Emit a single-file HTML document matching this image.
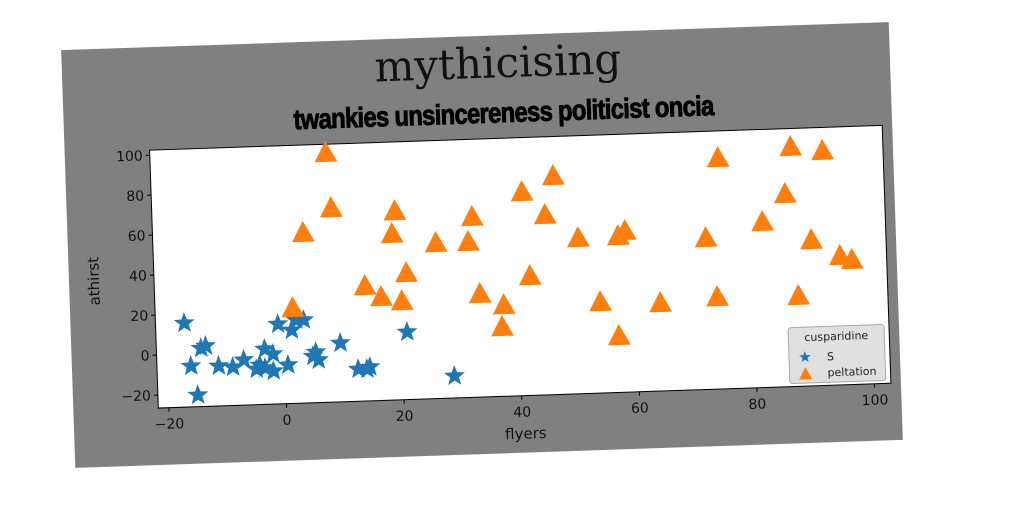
<!DOCTYPE html>
<html><head><meta charset="utf-8">
<style>
html,body{margin:0;padding:0;background:#fff;width:1024px;height:512px;overflow:hidden}
#panel{position:absolute;left:68px;top:36px;width:828px;height:418px;background:#808080;transform:rotate(-1.94deg);transform-origin:center center}
svg text{font-family:"DejaVu Sans","Liberation Sans",sans-serif}
</style></head>
<body>
<div id="panel">
<svg id="chart" width="828" height="418">
  <text x="436" y="42" text-anchor="middle" font-size="42" style="font-family:'DejaVu Serif','Liberation Serif',serif" fill="#111">mythicising</text>
  <text x="440" y="87" text-anchor="middle" font-size="28" font-weight="bold" fill="#000" stroke="#000" stroke-width="0.9" transform="translate(440,0) scale(0.85,1) translate(-440,0)" style="font-family:'Liberation Sans',sans-serif;letter-spacing:-0.8px">twankies unsincereness politicist oncia</text>
  <g id="plot"></g>
</svg>
</div>
<script>
const xTicks=[-20,0,20,40,60,80,100];
const yTicks=[-20,0,20,40,60,80,100];
const seriesNames=["S","peltation"];
const sX=[-16.9,-16.0,-15.0,-14.2,-13.4,-11.3,-8.9,-7.0,-4.9,-3.4,-2.0,-2.0,-4.3,0.5,-1.0,1.3,2.1,3.4,4.8,5.3,5.7,9.5,12.4,13.9,14.4,20.9,28.7,-3.4];
const sY=[15.5,-6.1,-20.7,2.7,3.7,-6.5,-7.3,-3.9,-8.7,1.2,-1.5,-10,-6.7,-7.2,13.4,10.2,15.1,15.0,-3.2,-1.2,-5.2,2.9,-10.4,-10.6,-9.6,7.3,-15.5,-8.3];
const pX=[8.1,8.7,3.8,1.6,19.5,18.9,21.1,20.2,16.7,14.0,26.3,31.8,32.6,33.5,37.5,37.1,41.2,42.1,45.0,46.6,50.5,53.9,56.9,57.3,58.5,64.1,72.2,74.7,73.8,81.9,85.9,87.1,87.6,90.1,92.5,94.9,96.9];
const pY=[98.2,70.5,58.6,21.2,67.9,56.6,36.8,22.8,25.2,31.0,51.3,51.3,63.7,25.1,19.1,8.2,75.3,33.2,63.5,82.8,51.4,19.0,1.7,51.7,54.1,17.5,49.2,89.0,19.5,56.3,69.9,93.3,18.7,46.4,90.8,38.0,35.8];

const NS="http://www.w3.org/2000/svg";
const PL=85,PT=103,PW=733,PH=258;
const xMin=-21.8,xMax=102.8,yMin=-26.5,yMax=102.5;
const xs=v=>PL+(v-xMin)/(xMax-xMin)*PW;
const ys=v=>PT+(yMax-v)/(yMax-yMin)*PH;
const g=document.getElementById('plot');
function mk(t,a){const e=document.createElementNS(NS,t);for(const k in a)e.setAttribute(k,a[k]);g.appendChild(e);return e;}

const bg=mk('rect',{x:PL,y:PT,width:PW,height:PH,fill:'#fff',stroke:'#000','stroke-width':1});



xTicks.forEach(t=>{
  const x=xs(t);
  const l=mk('line',{x1:x,y1:PT+PH,x2:x,y2:PT+PH+4,stroke:'#000'});
  
  
  const tx=mk('text',{x:x,y:PT+PH+21,'text-anchor':'middle','font-size':14,fill:'#111'});
  tx.textContent=t<0?'\u2212'+Math.abs(t):t;
  
  
});
yTicks.forEach(t=>{
  const y=ys(t);
  const l=mk('line',{x1:PL-4,y1:y,x2:PL,y2:y,stroke:'#000'});
  
  
  const tx=mk('text',{x:PL-7,y:y+5,'text-anchor':'end','font-size':14,fill:'#111'});
  tx.textContent=t<0?'\u2212'+Math.abs(t):t;
  
  
});
const xt=mk('text',{x:PL+PW/2,y:PT+PH+43,'text-anchor':'middle','font-size':15,fill:'#111'});
xt.textContent='flyers';


const yt=mk('text',{x:0,y:0,'text-anchor':'middle','font-size':15,fill:'#111',transform:`translate(${PL-55},${PT+PH/2}) rotate(-90)`});
yt.textContent='athirst';



function starPath(cx,cy,R){const r=R*0.42;let d='';for(let i=0;i<10;i++){const a=-Math.PI/2+i*Math.PI/5;const rr=i%2?r:R;d+=(i?'L':'M')+(cx+rr*Math.cos(a)).toFixed(1)+' '+(cy+rr*Math.sin(a)).toFixed(1);}return d+'Z';}
function triPath(cx,cy,s){return `M${cx} ${cy-s}L${cx+s*0.95} ${cy+s*0.75}L${cx-s*0.95} ${cy+s*0.75}Z`;}

sX.forEach((v,i)=>{
  const p=mk('path',{d:starPath(xs(v),ys(sY[i]),11),fill:'#1f77b4'});
  
  
});
pX.forEach((v,i)=>{
  const p=mk('path',{d:triPath(xs(v),ys(pY[i]),12),fill:'#ff7f0e'});
  
  
});

const LW=96,LH=56,LX=PL+PW-LW-5,LY=PT+PH-LH-3;
const lg=mk('rect',{x:LX,y:LY,width:LW,height:LH,rx:3,fill:'#e0e0e0',stroke:'#aaa'});


const lt=mk('text',{x:LX+LW/2,y:LY+14,'text-anchor':'middle','font-size':11,fill:'#222'});
lt.textContent='cusparidine';


const ls=mk('path',{d:starPath(LX+16,LY+30,6),fill:'#1f77b4'});


const lst=mk('text',{x:LX+38,y:LY+34,'font-size':11,fill:'#222'});
lst.textContent=seriesNames[0];


const ltr=mk('path',{d:triPath(LX+16,LY+47,7),fill:'#ff7f0e'});


const ltt=mk('text',{x:LX+38,y:LY+50,'font-size':11,fill:'#222'});
ltt.textContent=seriesNames[1];


</script>
</body></html>
